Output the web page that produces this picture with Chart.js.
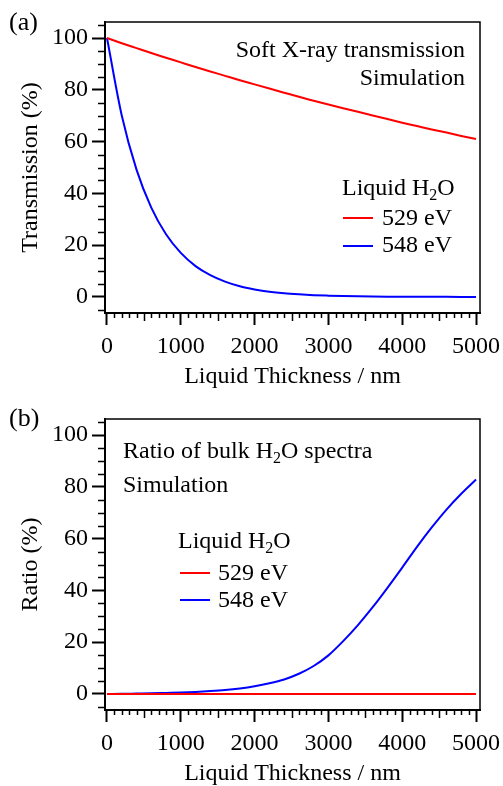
<!DOCTYPE html>
<html>
<head>
<meta charset="utf-8">
<script src="https://cdn.jsdelivr.net/npm/chart.js@4.4.1/dist/chart.umd.min.js"></script>
<style>
  body { margin: 0; background: #fff; overflow: hidden; }
  .wrap { position: absolute; left: 0; width: 503px; }
  .txt {
    position: absolute;
    font-family: 'Liberation Serif', 'Times New Roman', serif;
    font-size: 24px;
    line-height: 24px;
    color: #000;
    white-space: nowrap;
  }
  .txt sub { font-size: 16px; vertical-align: -5px; line-height: 0; }
  .lbl { font-size: 26px; line-height: 26px; }
  .key { position: absolute; height: 2px; width: 30px; }
</style>
</head>
<body>
<div class="wrap" style="top:0;height:393px"><canvas id="chartA"></canvas></div>
<div class="wrap" style="top:397px;height:392px"><canvas id="chartB"></canvas></div>

<div class="txt lbl" style="left:9px;top:9px">(a)</div>
<div class="txt" style="right:38px;top:37px">Soft X-ray transmission</div>
<div class="txt" style="right:38px;top:65px">Simulation</div>
<div class="txt" style="left:342px;top:175px">Liquid H<sub>2</sub>O</div>
<div class="key" style="left:343px;top:217px;background:#ff0000"></div>
<div class="txt" style="left:382px;top:205px">529 eV</div>
<div class="key" style="left:343px;top:245px;background:#0000ff"></div>
<div class="txt" style="left:382px;top:232px">548 eV</div>

<div class="txt lbl" style="left:9px;top:405px">(b)</div>
<div class="txt" style="left:123px;top:438px">Ratio of bulk H<sub>2</sub>O spectra</div>
<div class="txt" style="left:123px;top:472px">Simulation</div>
<div class="txt" style="left:178px;top:528px">Liquid H<sub>2</sub>O</div>
<div class="key" style="left:180px;top:572px;background:#ff0000"></div>
<div class="txt" style="left:218px;top:560px">529 eV</div>
<div class="key" style="left:180px;top:599px;background:#0000ff"></div>
<div class="txt" style="left:218px;top:587px">548 eV</div>

<script>
// liquid thickness (nm)
const thickness = [0, 200, 400, 600, 800, 1000, 1200, 1400, 1600, 1800, 2000, 2200, 2400,
  2600, 2800, 3000, 3200, 3400, 3600, 3800, 4000, 4200, 4400, 4600, 4800, 5000];

// (a) transmission (%)
const trans529 = [100, 98.0, 96.1, 94.2, 92.4, 90.6, 88.8, 87.1, 85.4, 83.7, 82.1, 80.5, 78.9,
  77.3, 75.8, 74.3, 72.9, 71.5, 70.1, 68.7, 67.3, 66.0, 64.7, 63.5, 62.2, 61.0];
const trans548 = [100, 70.1, 49.2, 34.5, 24.2, 17.0, 11.9, 8.4, 5.9, 4.1, 2.9, 2.0, 1.4,
  1.0, 0.7, 0.5, 0.34, 0.24, 0.17, 0.12, 0.08, 0.06, 0.04, 0.03, 0.02, 0.01];

// (b) ratio of bulk spectra (%)
const ratio529 = [0, 0, 0, 0, 0, 0, 0, 0, 0, 0, 0, 0, 0,
  0, 0, 0, 0, 0, 0, 0, 0, 0, 0, 0, 0, 0];
const ratio548 = [0, 0.05, 0.15, 0.25, 0.4, 0.55, 0.8, 1.1, 1.5, 2.1, 2.95, 4.1, 5.6,
  7.8, 10.8, 14.9, 20.4, 26.6, 33.5, 41.0, 48.8, 56.8, 64.3, 71.2, 77.3, 82.8];

// axis ticks
const xTicks = [0, 1000, 2000, 3000, 4000, 5000];
const yTicks = [0, 20, 40, 60, 80, 100];

const FONT = "'Liberation Serif', 'Times New Roman', serif";

// box around the plot + minor ticks
const axisDecor = {
  id: 'axisDecor',
  afterDraw(chart) {
    const { ctx, chartArea: a, scales: { x, y } } = chart;
    ctx.save();
    ctx.strokeStyle = '#000';
    ctx.lineWidth = 1.5;
    ctx.strokeRect(a.left, a.top, a.right - a.left, a.bottom - a.top);
    ctx.beginPath();
    for (let v = -5; v <= 105; v += 5) {
      if (v % 20 === 0) continue;
      const py = Math.round(y.getPixelForValue(v)) + 0.5;
      ctx.moveTo(a.left - 7, py);
      ctx.lineTo(a.left, py);
    }
    for (let v = 100; v <= 5000; v += 100) {
      if (v % 1000 === 0) continue;
      const px = Math.round(x.getPixelForValue(v)) + 0.5;
      const len = v % 500 === 0 ? 8 : 5;
      ctx.moveTo(px, a.bottom);
      ctx.lineTo(px, a.bottom + len);
    }
    ctx.stroke();
    ctx.restore();
  }
};

function pts(ys) {
  return thickness.map((t, i) => ({ x: t, y: ys[i] }));
}

function makeChart(id, yTitle, red, blue, xHeight, titlePad) {
  return new Chart(document.getElementById(id), {
    type: 'line',
    data: {
      datasets: [
        { label: '529 eV', data: pts(red), borderColor: '#ff0000', borderWidth: 2,
          pointRadius: 0, cubicInterpolationMode: 'monotone' },
        { label: '548 eV', data: pts(blue), borderColor: '#0000ff', borderWidth: 2,
          pointRadius: 0, cubicInterpolationMode: 'monotone' }
      ]
    },
    options: {
      responsive: true,
      maintainAspectRatio: false,
      animation: false,
      layout: { padding: { top: 22, right: 23, left: 0, bottom: 0 } },
      plugins: { legend: { display: false }, tooltip: { enabled: false } },
      scales: {
        x: {
          type: 'linear',
          min: -27,
          max: 5054,
          afterBuildTicks: (s) => { s.ticks = xTicks.map(v => ({ value: v })); },
          afterFit: (s) => { s.height = xHeight; s.paddingLeft = 0; s.paddingRight = 0; },
          ticks: {
            autoSkip: false, maxRotation: 0, padding: 7, color: '#000',
            font: { family: FONT, size: 24 },
            callback: (v) => String(v)
          },
          grid: { drawOnChartArea: false, tickLength: 12, tickWidth: 2, tickColor: '#000' },
          border: { display: true, color: '#000', width: 2 },
          title: {
            display: true, text: 'Liquid Thickness / nm', color: '#000',
            font: { family: FONT, size: 24 }, padding: { top: 0, bottom: titlePad }
          }
        },
        y: {
          min: -6.2,
          max: 106.2,
          afterBuildTicks: (s) => { s.ticks = yTicks.map(v => ({ value: v })); },
          afterFit: (s) => { s.width = 105; s.paddingTop = 0; s.paddingBottom = 0; },
          ticks: {
            padding: 4, color: '#000', font: { family: FONT, size: 24 },
            callback: (v) => String(v)
          },
          grid: { drawOnChartArea: false, tickLength: 13, tickWidth: 2, tickColor: '#000' },
          border: { display: true, color: '#000', width: 2 },
          title: {
            display: true, text: yTitle, color: '#000',
            font: { family: FONT, size: 24 }, padding: { top: 16.5, bottom: 0 }
          }
        }
      }
    },
    plugins: [axisDecor]
  });
}

makeChart('chartA', 'Transmission (%)', trans529, trans548, 80, 2);
makeChart('chartB', 'Ratio (%)', ratio529, ratio548, 79, 1);
</script>
</body>
</html>
